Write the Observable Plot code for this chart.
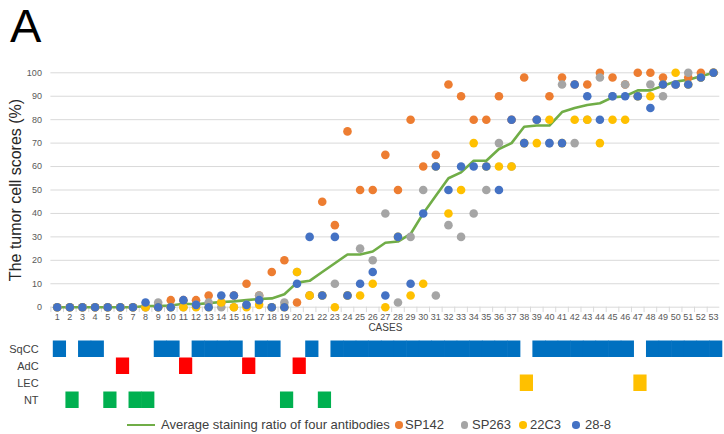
<!DOCTYPE html>
<html><head><meta charset="utf-8">
<script src="https://cdn.jsdelivr.net/npm/d3@7"></script>
<script src="https://cdn.jsdelivr.net/npm/@observablehq/plot@0.6"></script>
<style>
body{margin:0;background:#fff;}
#wrap{position:relative;width:724px;height:434px;overflow:hidden;font-family:Arial,"Liberation Sans",sans-serif;background:#fff;}
#wrap svg{position:absolute;left:0;}
.lg{position:absolute;top:417px;line-height:16px;height:16px;font-size:13px;color:#404040;white-space:nowrap;}
.dot{position:absolute;width:7.5px;height:7.5px;border-radius:50%;top:421.3px;}
#letterA{position:absolute;left:10px;top:2px;font-size:47px;line-height:47px;color:#000;}
</style></head><body><div id="wrap"></div>
<script>
const cases = d3.range(1, 54);
const yTicks = [0,10,20,30,40,50,60,70,80,90,100];
const sp142 = [0,0,0,0,0,0,0,0,0,3,3,3,5,2,5,10,5,15,20,2,5,45,35,75,50,50,65,50,80,60,65,95,90,80,80,90,80,98,80,90,98,95,95,100,98,95,100,100,98,95,98,100,100];
const sp263 = [0,0,0,0,0,0,0,0,2,0,0,1,2,0,0,1,5,0,2,15,5,5,10,5,25,20,40,2,30,50,5,35,30,40,50,70,60,70,80,70,95,70,80,98,90,95,90,95,90,95,100,98,100];
const c22c3 = [0,0,0,0,0,0,0,0,0,0,0,0,0,2,0,0,1,0,0,15,5,5,0,5,5,10,0,30,5,10,60,40,50,70,60,60,60,70,70,80,70,80,80,70,80,80,90,90,95,100,95,98,100];
const c288  = [0,0,0,0,0,0,0,2,0,0,3,1,0,5,5,1,3,0,0,10,30,5,30,5,10,15,5,30,10,40,60,50,60,60,60,50,80,70,80,70,70,95,90,80,90,90,90,85,95,95,95,98,100];
const average = [0,0,0,0,0,0,0,0.5,0.5,0.75,1.5,1.25,1.75,2.25,2.5,3,3.5,3.75,5.5,10.5,11.25,15,18.75,22.5,22.5,23.75,27.5,28,31.25,40,47.5,55,57.5,62.5,62.5,67.5,70,77,77.5,77.5,83.25,85,86.25,87,89.5,90,92.5,92.5,94.5,96.25,97,98.5,100];

const seriesNames = ["SP142","SP263","22C3","28-8"];
const seriesColors = ["#ED7D31","#A5A5A5","#FFC000","#4472C4"];
const seriesValues = [sp142, sp263, c22c3, c288];

const types = ["SqCC","AdC","LEC","NT"];
const typeColors = ["#0070C0","#FF0000","#FFC000","#00B050"];
const sqcc = [1,3,4,9,10,12,13,14,15,17,18,21,23,24,25,26,27,28,29,30,31,32,33,34,35,36,37,39,40,41,42,43,44,45,46,48,49,50,51,52,53];
const adc = [6,11,16,20];
const lec = [38,47];
const nt = [2,5,7,8,19,22];
const typeCases = [sqcc, adc, lec, nt];

const scatter = seriesValues.flatMap((vals, s) => vals.map((v, i) => ({c: cases[i], v, name: seriesNames[s]})));
const avgData = cases.map((c, i) => ({c, v: average[i]}));
const tiles = typeCases.flatMap((list, t) => list.map(c => ({c, type: types[t]})));

const font = 'Arial, "Liberation Sans", sans-serif';
const wrap = document.getElementById("wrap");

const main = Plot.plot({
  width: 724, height: 336,
  marginLeft: 50.4, marginRight: 4.7, marginTop: 72.3, marginBottom: 29.3,
  style: {fontFamily: font, fontSize: "9px", color: "#595959", background: "transparent", overflow: "visible"},
  x: {type: "band", domain: cases, padding: 0, tickSize: 0, tickPadding: 6.5, label: null},
  y: {domain: [0, 100], ticks: yTicks, tickSize: 0, tickPadding: 9, label: null},
  color: {domain: seriesNames, range: seriesColors},
  marks: [
    Plot.ruleY(yTicks, {stroke: "#d9d9d9", strokeWidth: 1}),
    Plot.ruleX(cases, {x: d => d, dx: -6.31, y1: 0, y2: -2.3, stroke: "#d9d9d9"}),
    Plot.line(avgData, {x: "c", y: "v", stroke: "#70AD47", strokeWidth: 2.6}),
    Plot.dot(scatter, {x: "c", y: "v", fill: "name", r: 4.3}),
    Plot.text(["The tumor cell scores (%)"], {frameAnchor: "left", textAnchor: "middle", dx: -35, rotate: -90, fontSize: 16, fill: "#262626"}),
    Plot.text(["CASES"], {frameAnchor: "bottom", dy: 24, fontSize: 10, fill: "#404040"})
  ]
});
main.style.top = "0px";
wrap.appendChild(main);

const tilePlot = Plot.plot({
  width: 724, height: 80,
  marginLeft: 53.1, marginRight: 2, marginTop: 4, marginBottom: 8,
  style: {fontFamily: font, fontSize: "11px", color: "#404040", background: "transparent", overflow: "visible"},
  x: {type: "band", domain: cases, padding: 0, axis: null},
  y: {type: "band", domain: types, padding: 0, tickSize: 0, tickPadding: 15, label: null},
  color: {domain: types, range: typeColors},
  marks: [
    Plot.cell(tiles, {x: "c", y: "type", fill: "type", inset: 0, insetLeft: -0.3, insetRight: -0.3, insetTop: 0.5, insetBottom: 0})
  ]
});
tilePlot.style.top = "336px";
wrap.appendChild(tilePlot);

// Legend
const A = document.createElement("div");
A.id = "letterA"; A.textContent = "A"; wrap.appendChild(A);

function addEl(cls, left, html, color) {
  const e = document.createElement("div");
  e.className = cls; e.style.left = left + "px";
  if (html != null) e.textContent = html;
  if (color) e.style.background = color;
  wrap.appendChild(e);
  return e;
}
const sw = document.createElement("div");
sw.style.cssText = "position:absolute;left:127px;top:423.8px;width:28px;height:2.6px;background:#70AD47;";
wrap.appendChild(sw);
addEl("lg", 161, "Average staining ratio of four antibodies");
const legendDotLeft = [395, 460.5, 519.3, 572.3];
const legendTextLeft = [405, 472, 530, 585];
seriesNames.forEach((n, i) => {
  addEl("dot", legendDotLeft[i], null, seriesColors[i]);
  addEl("lg", legendTextLeft[i], n);
});
</script></body></html>
